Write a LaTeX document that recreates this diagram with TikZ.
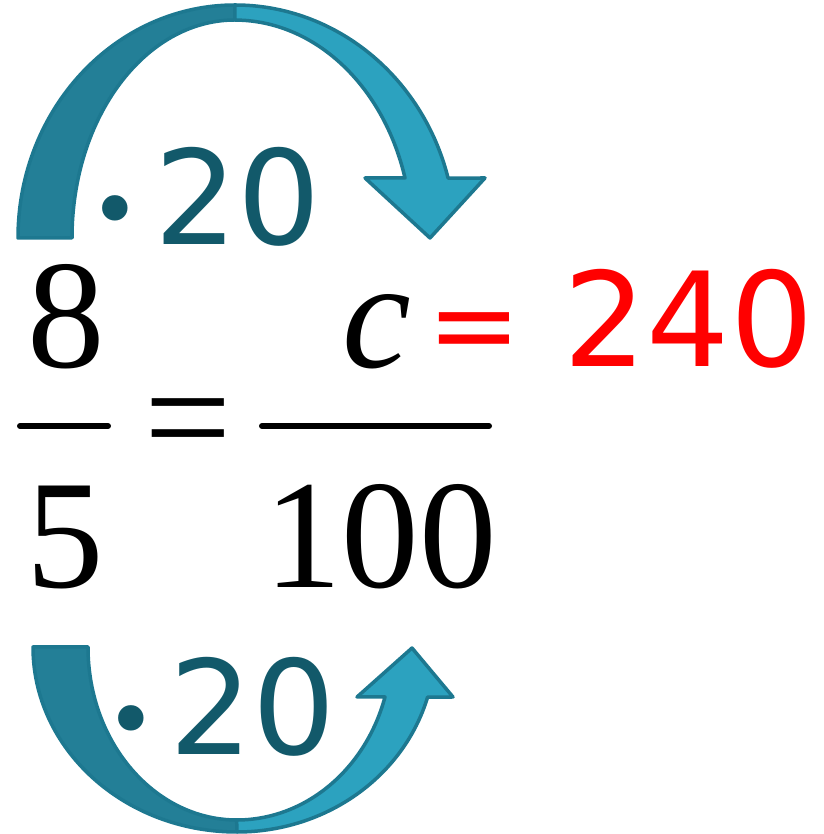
\documentclass[tikz,border=0pt]{standalone}
\usepackage{fontspec}
\usepackage{xcolor}
\usepackage{tikz}
\usetikzlibrary{arrows.meta,calc}
\setmainfont{Liberation Serif}
\newfontfamily\numfont{DejaVu Sans}
\definecolor{banddark}{HTML}{237F97}
\definecolor{bandlight}{HTML}{2CA2BF}
\definecolor{bandedge}{HTML}{1D7890}
\definecolor{factorteal}{HTML}{12596A}
\definecolor{resultred}{HTML}{FF0000}

\begin{document}
\begin{tikzpicture}[>=Latex, thick, x=1pt, y=1pt,
    leftband/.style={fill=banddark, draw=bandedge, line width=3.5pt, line join=round},
    rightband/.style={fill=bandlight, draw=bandedge, line width=3.5pt, line join=round},
    bigserif/.style={font=\rmfamily\fontsize{155}{160}\selectfont, inner sep=0pt, anchor=base},
    bignum/.style={font=\numfont\fontsize{131}{140}\selectfont, inner sep=0pt, anchor=base},
    bigdot/.style={font=\rmfamily\fontsize{215}{220}\selectfont, inner sep=0pt, anchor=north, text=factorteal}]
  \useasboundingbox (0,0) rectangle (823,834);
  \def\topbase{466}
  \def\botbase{246}
  % upper arrow, times 20 across the numerators
  \filldraw[leftband] (18,596) arc[start angle=180, end angle=90, x radius=217, y radius=233]
    -- (235,814) arc[start angle=90, end angle=180, x radius=163, y radius=218] -- cycle;
  \filldraw[rightband] (235,829) arc[start angle=90, end angle=14.9, x radius=220.5, y radius=233]
    -- (485,656) -- (430,596) -- (365,656) -- (405,656)
    arc[start angle=16, end angle=90, x radius=177, y radius=218] -- cycle;
  % lower arrow, times 20 across the denominators
  \filldraw[leftband] (33,187) arc[start angle=180, end angle=270, x radius=204, y radius=185]
    -- (237,14) arc[start angle=270, end angle=180, x radius=149, y radius=173] -- cycle;
  \filldraw[rightband] (237,2) arc[start angle=270, end angle=344.3, x radius=198, y radius=185]
    -- (453,137) -- (412,186) -- (357,137) -- (385,137)
    arc[start angle=343.2, end angle=270, x radius=155, y radius=173] -- cycle;
  % the two fractions
  \coordinate (barLa) at (20,408);
  \coordinate (barLb) at (108,408);
  \coordinate (barRa) at (262,408);
  \coordinate (barRb) at (489,408);
  \draw[line width=6pt, line cap=round] (barLa) -- (barLb);
  \draw[line width=6pt, line cap=round] (barRa) -- (barRb);
  \node[bigserif] (eight) at (66.5,\topbase) {8};
  \node[bigserif] (five) at (65,\botbase) {5};
  \node[bigserif] (cvar) at (377,\topbase) {\itshape c};
  \node[bigserif] (hundred) at (380.5,\botbase) {100};
  \node[bigserif] (equal) at (188,364) {=};
  % result
  \node[bignum, text=resultred, font=\numfont\fontsize{112}{120}\selectfont] (redeq) at (474,470) {=};
  \node[bignum, text=resultred] (result) at (688.5,467) {240};
  % factors
  \node[bigdot] (dotup) at (115,639) {·};
  \node[bignum, text=factorteal] (factorup) at (237.5,589) {20};
  \node[bigdot] (dotdown) at (131,129) {·};
  \node[bignum, text=factorteal] (factordown) at (252.5,79) {20};
\end{tikzpicture}
\end{document}
